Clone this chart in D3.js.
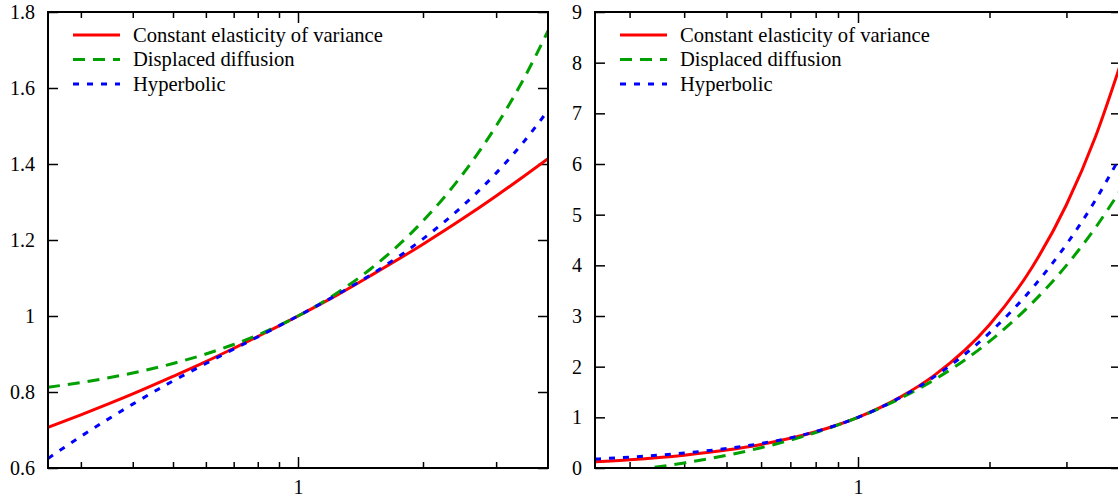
<!DOCTYPE html>
<html>
<head>
<meta charset="utf-8">
<script src="https://cdn.jsdelivr.net/npm/d3@7.9.0/dist/d3.min.js"></script>
<style>
  body { margin: 0; background: #fff; }
  svg { display: block; }
  text { font-family: "Liberation Serif", "Times New Roman", serif; fill: #000; }
</style>
</head>
<body>
<svg id="chart" width="1118" height="500"></svg>
<script>
// x values the curves were read at (log axis, 0.25 .. 4)
const xs = [0.25, 0.3, 0.4, 0.5, 0.6, 0.7, 0.8, 0.9, 1, 1.25, 1.5, 2, 2.5, 3, 3.5, 4];

// left panel
const cevLeft = [0.707, 0.740, 0.795, 0.841, 0.880, 0.915, 0.946, 0.974, 1, 1.057, 1.107, 1.189, 1.257, 1.316, 1.368, 1.414];
const ddLeft  = [0.8125, 0.825, 0.85, 0.875, 0.9, 0.925, 0.95, 0.975, 1, 1.0625, 1.125, 1.25, 1.375, 1.5, 1.625, 1.75];
const hypLeft = [0.625, 0.683, 0.768, 0.829, 0.875, 0.913, 0.945, 0.974, 1, 1.058, 1.109, 1.203, 1.291, 1.376, 1.459, 1.541];

// right panel
const cevRight = [0.125, 0.164, 0.253, 0.354, 0.465, 0.586, 0.716, 0.854, 1, 1.398, 1.837, 2.828, 3.953, 5.196, 6.548, 8.0];
const ddRight  = [-0.125, -0.05, 0.1, 0.25, 0.4, 0.55, 0.7, 0.85, 1, 1.375, 1.75, 2.5, 3.25, 4.0, 4.75, 5.5];
const hypRight = [0.176, 0.214, 0.295, 0.384, 0.483, 0.594, 0.718, 0.854, 1, 1.393, 1.809, 2.667, 3.538, 4.414, 5.293, 6.174];

const seriesNames = ["Constant elasticity of variance", "Displaced diffusion", "Hyperbolic"];
const leftYTicks = [0.6, 0.8, 1, 1.2, 1.4, 1.6, 1.8];
const rightYTicks = [0, 1, 2, 3, 4, 5, 6, 7, 8, 9];
const xMajorTicks = [1];
const xMinorTicks = [0.3, 0.4, 0.5, 0.6, 0.7, 0.8, 0.9, 2, 3];

const colors = ["#ff0000", "#00a000", "#0000ff"];
const dashes = [null, "12,8", "6,8"];
const serif = "Liberation Serif, Times New Roman, serif";

const svg = d3.select("#chart");
const plotTop = 12, plotBottom = 468;

const panels = [
  { left: 48, right: 548, domain: [0.6, 1.8], ticks: leftYTicks, series: [cevLeft, ddLeft, hypLeft] },
  { left: 595, right: 1121, domain: [0, 9], ticks: rightYTicks, series: [cevRight, ddRight, hypRight] }
];

panels.forEach((p, pi) => {
  const w = p.right - p.left, h = plotBottom - plotTop;
  const g = svg.append("g").attr("transform", `translate(${p.left},${plotTop})`);

  const x = d3.scaleLog().domain([0.25, 4]).range([0, w]);
  const y = d3.scaleLinear().domain(p.domain).range([h, 0]);

  g.append("clipPath").attr("id", "clip" + pi)
    .append("rect").attr("width", w).attr("height", h);

  // y axes, ticks inward
  const yl = g.append("g")
    .call(d3.axisLeft(y).tickValues(p.ticks).tickFormat(d => String(d)).tickSize(-10).tickSizeOuter(0).tickPadding(13));
  const yr = g.append("g").attr("transform", `translate(${w},0)`)
    .call(d3.axisRight(y).tickValues(p.ticks).tickFormat("").tickSize(-10).tickSizeOuter(0));

  // x axes: major and minor, bottom and top
  const xb = g.append("g").attr("transform", `translate(0,${h})`)
    .call(d3.axisBottom(x).tickValues(xMajorTicks).tickFormat(d => String(d)).tickSize(-11).tickSizeOuter(0).tickPadding(12));
  const xbm = g.append("g").attr("transform", `translate(0,${h})`)
    .call(d3.axisBottom(x).tickValues(xMinorTicks).tickFormat("").tickSize(-6).tickSizeOuter(0));
  const xt = g.append("g")
    .call(d3.axisTop(x).tickValues(xMajorTicks).tickFormat("").tickSize(-11).tickSizeOuter(0));
  const xtm = g.append("g")
    .call(d3.axisTop(x).tickValues(xMinorTicks).tickFormat("").tickSize(-6).tickSizeOuter(0));

  [yl, yr, xb, xbm, xt, xtm].forEach(a => {
    a.attr("font-family", serif).attr("font-size", 20);
    a.select(".domain").remove();
    a.selectAll(".tick line").attr("stroke", "#000").attr("stroke-width", 1.5);
    a.selectAll(".tick text").attr("fill", "#000");
  });

  // curves
  const line = d3.line()
    .x((d, i) => x(xs[i]))
    .y(d => y(d))
    .curve(d3.curveMonotoneX);

  p.series.forEach((s, i) => {
    g.append("path")
      .datum(s)
      .attr("clip-path", `url(#clip${pi})`)
      .attr("fill", "none")
      .attr("stroke", colors[i])
      .attr("stroke-width", 3)
      .attr("stroke-dasharray", dashes[i])
      .attr("d", line);
  });

  // frame
  g.append("rect")
    .attr("width", w).attr("height", h)
    .attr("fill", "none").attr("stroke", "#000").attr("stroke-width", 2);

  // legend
  const lg = g.append("g").attr("font-family", serif).attr("font-size", 20.6);
  seriesNames.forEach((name, i) => {
    const ly = 23 + i * 24.5;
    lg.append("line")
      .attr("x1", 25).attr("x2", 72)
      .attr("y1", ly).attr("y2", ly)
      .attr("stroke", colors[i])
      .attr("stroke-width", 3)
      .attr("stroke-dasharray", dashes[i]);
    lg.append("text")
      .attr("x", 85).attr("y", ly)
      .attr("dy", "0.32em")
      .text(name);
  });
});
</script>
</body>
</html>
